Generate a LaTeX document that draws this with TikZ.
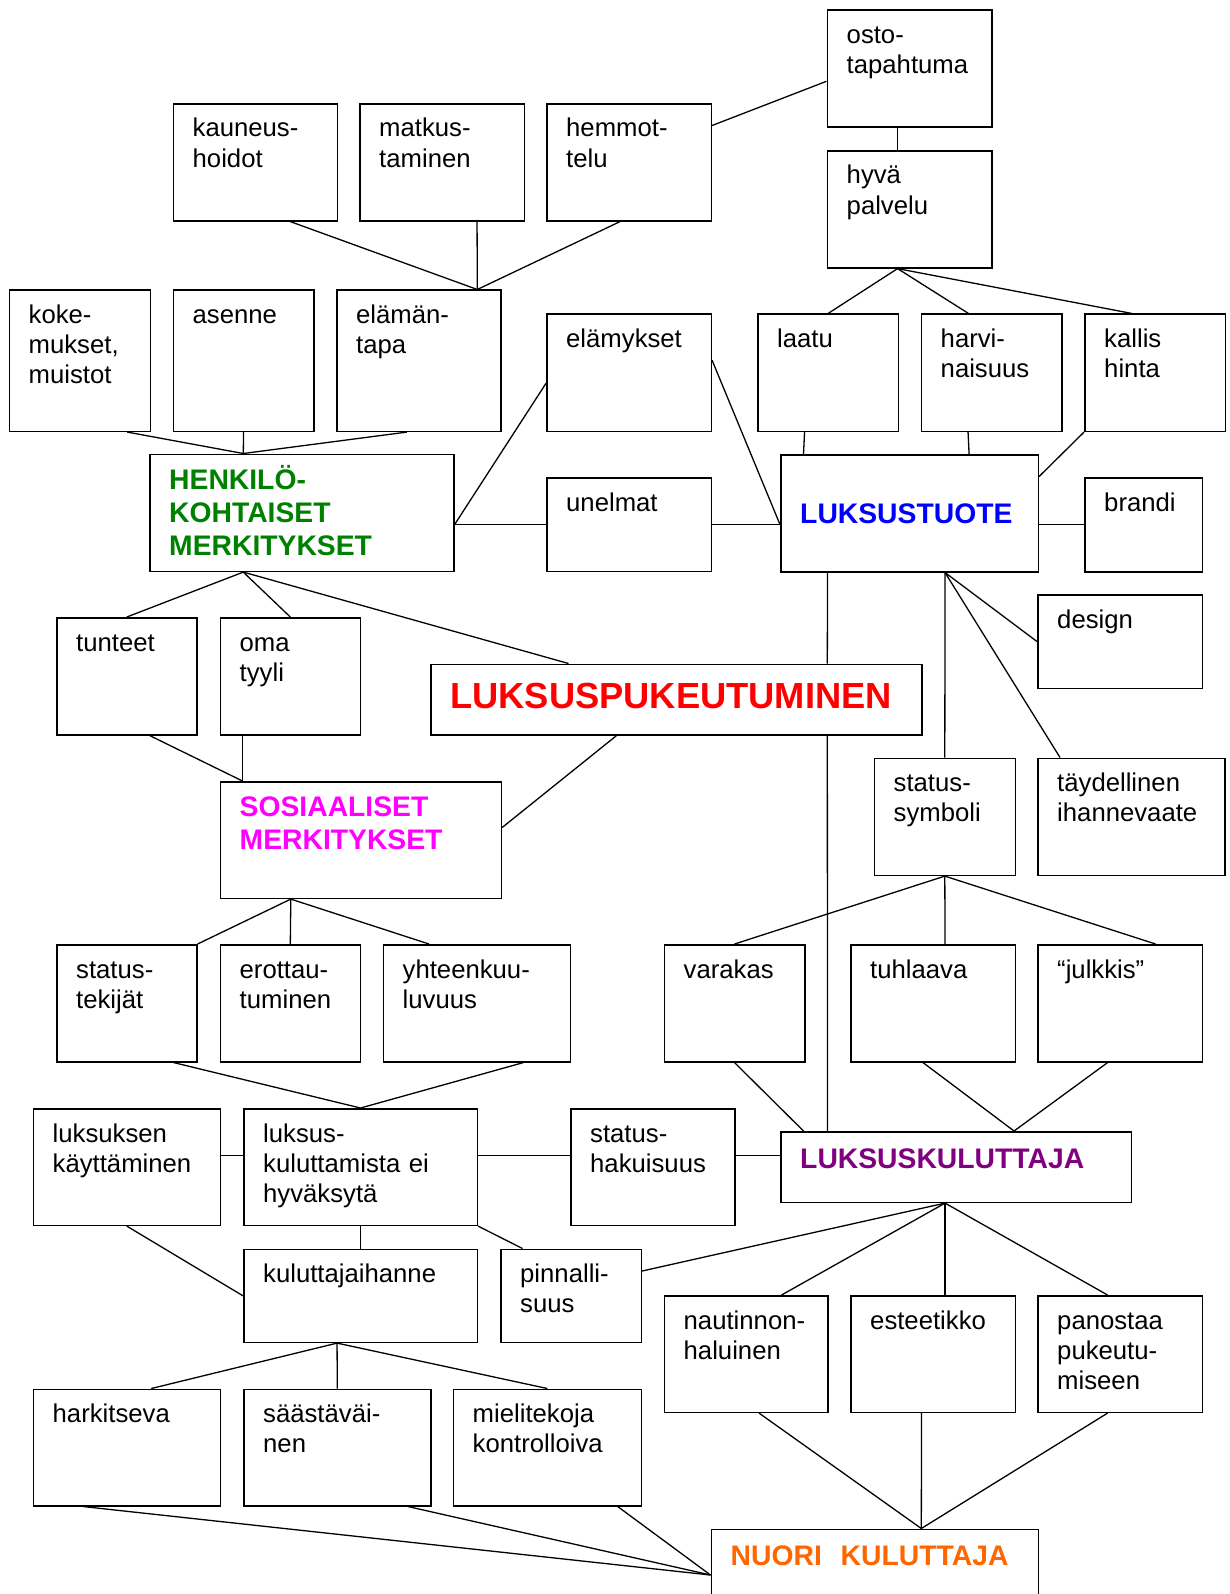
\documentclass[tikz,border=0pt]{standalone}
\usepackage{fontspec}
\setmainfont{Liberation Sans}
\usepackage{xcolor}

\definecolor{vihrea}{RGB}{0,128,0}
\definecolor{sininen}{RGB}{0,0,255}
\definecolor{punainen}{RGB}{255,0,0}
\definecolor{pinkki}{RGB}{255,0,255}
\definecolor{violetti}{RGB}{128,0,128}
\definecolor{oranssi}{RGB}{255,102,0}

\newcommand{\perusfontti}{\fontsize{25.7}{30.2}\selectfont}
\newcommand{\lihavafontti}{\fontsize{28.3}{33}\selectfont\bfseries}
\newcommand{\isofontti}{\fontsize{36.3}{40}\selectfont\bfseries}

\tikzset{
	laatikko/.style 2 args={draw, line width=1.6pt, fill=white, anchor=north west,
			inner sep=0pt, minimum width=#1, minimum height=#2},
	viiva/.style={line width=1.3pt},
	tekstipohja/.style={anchor=base west, align=left, text width=320pt, inner sep=0pt,
			draw=none, fill=none, minimum width=0pt, minimum height=0pt, xshift=20pt},
	teksti/.style={label={[tekstipohja, yshift=-34pt, font=\perusfontti, text=black]north west:#1}},
	otsikko/.style n args={4}{label={[tekstipohja, yshift=-#1, font=#2, text=#3]north west:#4}}
}

\begin{document}
\begin{tikzpicture}[x=1pt, y=-1pt]
		\useasboundingbox (0,0) rectangle (1229,1594);

		% Luksustuotteen puoli
		\node[laatikko={164.5}{117}, teksti={osto-\\tapahtuma}] (osto) at (826.5,9.5) {};
		\node[laatikko={164.5}{117}, teksti={hyvä\\palvelu}] (hyva) at (826.5,150) {};
		\node[laatikko={140.5}{117}, teksti={laatu}] (laatu) at (757,313.5) {};
		\node[laatikko={140.5}{117}, teksti={harvi-\\naisuus}] (harvi) at (920.5,313.5) {};
		\node[laatikko={140.5}{117}, teksti={kallis\\hinta}] (kallis) at (1084,313.5) {};
		\node[laatikko={257.5}{117}, otsikko={69pt}{\lihavafontti}{sininen}{LUKSUSTUOTE}] (tuote) at (780,454) {};
		\node[laatikko={117.5}{94}, teksti={brandi}] (brandi) at (1084,477) {};
		\node[laatikko={164.5}{93.5}, teksti={design}] (design) at (1037,594) {};
		\node[laatikko={141}{117}, teksti={status-\\symboli}] (symboli) at (873.5,757.5) {};
		\node[laatikko={187}{117}, teksti={täydellinen\\ihannevaate}] (taydellinen) at (1037,757.5) {};
		\node[laatikko={140.5}{117}, teksti={varakas}] (varakas) at (663.5,944) {};
		\node[laatikko={164.5}{117}, teksti={tuhlaava}] (tuhlaava) at (850,944) {};
		\node[laatikko={164.5}{117}, teksti={“julkkis”}] (julkkis) at (1037,944) {};

		% Henkilokohtaiset merkitykset
		\node[laatikko={164}{117}, teksti={kauneus-\\hoidot}] (kauneus) at (172.5,103) {};
		\node[laatikko={164.5}{117}, teksti={matkus-\\taminen}] (matkus) at (359,103) {};
		\node[laatikko={164.5}{117}, teksti={hemmot-\\telu}] (hemmot) at (546,103) {};
		\node[laatikko={141}{141}, teksti={koke-\\mukset,\\muistot}] (koke) at (8.5,289.5) {};
		\node[laatikko={140.5}{141}, teksti={asenne}] (asenne) at (172.5,289.5) {};
		\node[laatikko={164}{141}, teksti={elämän-\\tapa}] (elaman) at (336,289.5) {};
		\node[laatikko={164.5}{117}, teksti={elämykset}] (elamykset) at (546,313.5) {};
		\node[laatikko={304}{117}, otsikko={35.5pt}{\lihavafontti}{vihrea}{HENKILÖ-\\KOHTAISET\\MERKITYKSET}] (henkilo) at (149,453.5) {};
		\node[laatikko={164.5}{93.5}, teksti={unelmat}] (unelmat) at (546,477) {};
		\node[laatikko={140}{117}, teksti={tunteet}] (tunteet) at (56,617) {};
		\node[laatikko={140}{117}, teksti={oma\\tyyli}] (oma) at (219.5,617) {};
		\node[laatikko={491}{70.5}, otsikko={45pt}{\isofontti}{punainen}{LUKSUSPUKEUTUMINEN}] (pukeutuminen) at (430,663.5) {};

		% Sosiaaliset merkitykset
		\node[laatikko={281}{116.5}, otsikko={35.5pt}{\lihavafontti}{pinkki}{SOSIAALISET\\MERKITYKSET}] (sosiaaliset) at (219.5,781) {};
		\node[laatikko={140}{117}, teksti={status-\\tekijät}] (tekijat) at (56,944) {};
		\node[laatikko={140}{117}, teksti={erottau-\\tuminen}] (erottau) at (219.5,944) {};
		\node[laatikko={187}{117}, teksti={yhteenkuu-\\luvuus}] (yhteen) at (382.5,944) {};
		\node[laatikko={187}{116.5}, teksti={luksuksen\\käyttäminen}] (kaytto) at (32.5,1108) {};
		\node[laatikko={233.5}{116.5}, teksti={luksus-\\kuluttamista ei\\hyväksytä}] (eihyv) at (243,1108) {};
		\node[laatikko={164}{116.5}, teksti={status-\\hakuisuus}] (hakuisuus) at (570,1108) {};
		\node[laatikko={233.5}{93}, teksti={kuluttajaihanne}] (ihanne) at (243,1248.5) {};
		\node[laatikko={140.5}{93}, teksti={pinnalli-\\suus}] (pinnalli) at (500,1248.5) {};
		\node[laatikko={187}{116.5}, teksti={harkitseva}] (harkitseva) at (32.5,1388.5) {};
		\node[laatikko={187}{116.5}, teksti={säästäväi-\\nen}] (saastava) at (243,1388.5) {};
		\node[laatikko={188}{116.5}, teksti={mielitekoja\\kontrolloiva}] (mielitekoja) at (452.5,1388.5) {};

		% Kuluttajat
		\node[laatikko={350.5}{70.5}, otsikko={37pt}{\lihavafontti}{violetti}{LUKSUSKULUTTAJA}] (kuluttaja) at (780,1131) {};
		\node[laatikko={163.5}{116.5}, teksti={nautinnon-\\haluinen}] (nautinnon) at (663.5,1295) {};
		\node[laatikko={164.5}{116.5}, teksti={esteetikko}] (esteetikko) at (850,1295) {};
		\node[laatikko={164.5}{116.5}, teksti={panostaa\\pukeutu-\\miseen}] (panostaa) at (1037,1295) {};
		\node[laatikko={327}{120}, otsikko={36.5pt}{\lihavafontti}{oranssi}{NUORI~~KULUTTAJA}] (nuori) at (710.5,1528.5) {};

		% Yhteydet ylhaalla
		\draw[viiva] ([yshift=-22.5pt]hemmot.north east) -- ([yshift=-12.5pt]osto.west);
		\draw[viiva] ([xshift=-12pt]osto.south) -- ([xshift=-12pt]hyva.north);
		\draw[viiva] ([xshift=-12pt]hyva.south) -- (laatu.north);
		\draw[viiva] ([xshift=-12pt]hyva.south) -- ([xshift=-23pt]harvi.north);
		\draw[viiva] ([xshift=-12pt]hyva.south) -- ([xshift=-23pt]kallis.north);
		\draw[viiva] ([xshift=35pt]kauneus.south) -- ([xshift=58.5pt]elaman.north);
		\draw[viiva] ([xshift=35pt]matkus.south) -- ([xshift=58.5pt]elaman.north);
		\draw[viiva] ([xshift=-9pt]hemmot.south) -- ([xshift=58.5pt]elaman.north);

		% Henkilokohtaiset
		\draw[viiva] ([xshift=47.5pt]koke.south) -- ([xshift=-58.5pt]henkilo.north);
		\draw[viiva] (asenne.south) -- ([xshift=-58.5pt]henkilo.north);
		\draw[viiva] ([xshift=-12pt]elaman.south) -- ([xshift=-58.5pt]henkilo.north);
		\draw[viiva] ([yshift=-10.5pt]elamykset.west) -- (henkilo.east |- unelmat.west);
		\draw[viiva] (henkilo.east |- unelmat.west) -- (unelmat.west);
		\draw[viiva] ([yshift=12.5pt]elamykset.east) -- (tuote.west |- unelmat.west);
		\draw[viiva] (unelmat.east) -- (tuote.west |- unelmat.east);

		% Luksustuote
		\draw[viiva] ([xshift=-23.5pt]laatu.south) -- ([xshift=23.5pt]tuote.north west);
		\draw[viiva] ([xshift=-23.5pt]harvi.south) -- ([xshift=-70pt]tuote.north east);
		\draw[viiva] (kallis.south west) -- ([yshift=-22.5pt]tuote.north east);
		\draw[viiva] (tuote.east |- brandi.west) -- (brandi.west);
		\draw[viiva] ([xshift=-82pt]tuote.south) -- ([xshift=151pt]pukeutuminen.north);
		\draw[viiva] ([xshift=151pt]pukeutuminen.south) -- ([xshift=-128.5pt]kuluttaja.north);
		\draw[viiva] ([xshift=35.5pt]tuote.south) -- (symboli.north);
		\draw[viiva] ([xshift=35.5pt]tuote.south) -- (design.west);
		\draw[viiva] ([xshift=35.5pt]tuote.south) -- ([xshift=23pt]taydellinen.north west);
		\draw[viiva] (symboli.south) -- (varakas.north);
		\draw[viiva] (symboli.south) -- ([xshift=12pt]tuhlaava.north);
		\draw[viiva] (symboli.south) -- ([xshift=35.5pt]julkkis.north);
		\draw[viiva] (varakas.south) -- ([xshift=23.5pt]kuluttaja.north west);
		\draw[viiva] ([xshift=-10pt]tuhlaava.south) -- ([xshift=58pt]kuluttaja.north);
		\draw[viiva] ([xshift=-12.5pt]julkkis.south) -- ([xshift=58pt]kuluttaja.north);

		% Sosiaaliset
		\draw[viiva] ([xshift=-58.5pt]henkilo.south) -- (tunteet.north);
		\draw[viiva] ([xshift=-58.5pt]henkilo.south) -- (oma.north);
		\draw[viiva] ([xshift=-58.5pt]henkilo.south) -- ([xshift=138.5pt]pukeutuminen.north west);
		\draw[viiva] ([xshift=23pt]tunteet.south) -- ([xshift=23pt]sosiaaliset.north west);
		\draw[viiva] ([xshift=23pt]oma.south west) -- ([xshift=23pt]sosiaaliset.north west);
		\draw[viiva] ([xshift=186.5pt]pukeutuminen.south west) -- ([yshift=12.5pt]sosiaaliset.east);
		\draw[viiva] ([xshift=-70pt]sosiaaliset.south) -- (tekijat.north east);
		\draw[viiva] ([xshift=-70pt]sosiaaliset.south) -- (erottau.north);
		\draw[viiva] ([xshift=-70pt]sosiaaliset.south) -- ([xshift=46.5pt]yhteen.north west);
		\draw[viiva] ([xshift=47pt]tekijat.south) -- (eihyv.north);
		\draw[viiva] ([xshift=46.5pt]yhteen.south) -- (eihyv.north);

		% Kulutus
		\draw[viiva] ([yshift=11.5pt]kaytto.east) -- ([yshift=11.5pt]eihyv.west);
		\draw[viiva] ([yshift=11.5pt]eihyv.east) -- ([yshift=11.5pt]hakuisuus.west);
		\draw[viiva] ([yshift=11.5pt]hakuisuus.east) -- ([yshift=11.5pt]kuluttaja.west);
		\draw[viiva] (eihyv.south) -- (ihanne.north);
		\draw[viiva] (eihyv.south east) -- ([xshift=22.5pt]pinnalli.north west);
		\draw[viiva] (kaytto.south) -- (ihanne.west);
		\draw[viiva] ([xshift=-23.5pt]ihanne.south) -- ([xshift=24.5pt]harkitseva.north);
		\draw[viiva] ([xshift=-23.5pt]ihanne.south) -- (saastava.north);
		\draw[viiva] ([xshift=-23.5pt]ihanne.south) -- (mielitekoja.north);
		\draw[viiva] ([xshift=-11pt]kuluttaja.south) -- ([yshift=-22.5pt]pinnalli.north east);
		\draw[viiva] ([xshift=-11pt]kuluttaja.south) -- ([xshift=35.5pt]nautinnon.north);
		\draw[viiva] ([xshift=-11pt]kuluttaja.south) -- ([xshift=12pt]esteetikko.north);
		\draw[viiva] ([xshift=-11pt]kuluttaja.south) -- ([xshift=-12.5pt]panostaa.north);

		% Nuori kuluttaja
		\draw[viiva] ([xshift=13pt]nautinnon.south) -- ([xshift=46.5pt]nuori.north);
		\draw[viiva] ([xshift=-11.5pt]esteetikko.south) -- ([xshift=46.5pt]nuori.north);
		\draw[viiva] ([xshift=-12.5pt]panostaa.south) -- ([xshift=46.5pt]nuori.north);
		\draw[viiva] ([xshift=-43pt]harkitseva.south) -- ([yshift=-46.5pt]nuori.north west);
		\draw[viiva] ([xshift=71pt]saastava.south) -- ([yshift=-46.5pt]nuori.north west);
		\draw[viiva] ([xshift=70.5pt]mielitekoja.south) -- ([yshift=-46.5pt]nuori.north west);
	\end{tikzpicture}
\end{document}
